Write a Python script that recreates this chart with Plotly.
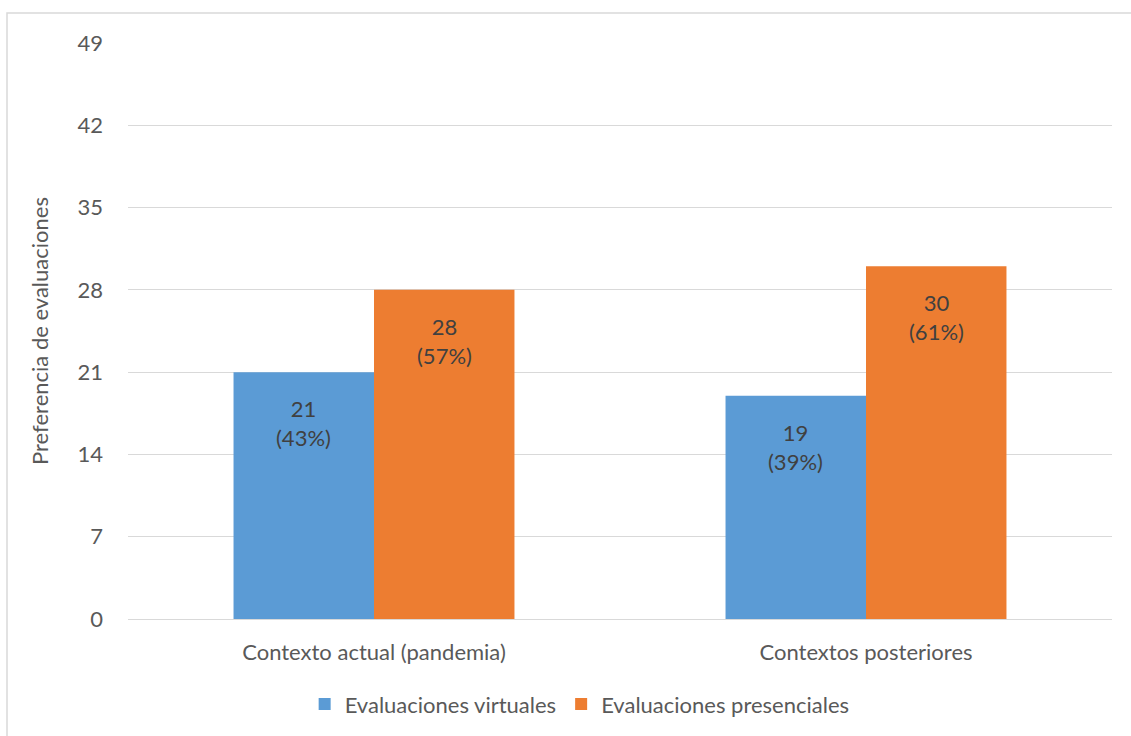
import plotly.graph_objects as go

categories = ["Contexto actual (pandemia)", "Contextos posteriores"]
virtuales = [21, 19]
presenciales = [28, 30]
pct_virtuales = ["43%", "39%"]
pct_presenciales = ["57%", "61%"]
tick_vals = [0, 7, 14, 21, 28, 35, 42, 49]

FONT = "Lato"
TXT = "#595959"
FS = 22
BAR_HALF_PX = 70.25
LABEL_DROP_PX = 51

fig = go.Figure()
fig.add_trace(go.Bar(
    x=categories, y=virtuales, name="Evaluaciones virtuales",
    marker=dict(color="#5B9BD5", line=dict(width=0)),
))
fig.add_trace(go.Bar(
    x=categories, y=presenciales, name="Evaluaciones presenciales",
    marker=dict(color="#ED7D31", line=dict(width=0)),
))

for vals, pcts, shift in ((virtuales, pct_virtuales, -BAR_HALF_PX),
                          (presenciales, pct_presenciales, BAR_HALF_PX)):
    for cat, v, p in zip(categories, vals, pcts):
        fig.add_annotation(x=cat, y=v, text=f"{v}<br>({p})", showarrow=False,
                           xshift=shift, yshift=-LABEL_DROP_PX, yanchor="middle",
                           font=dict(color="#404040", size=FS, family=FONT))

fig.update_layout(
    width=1131, height=736,
    margin=dict(l=128, r=19, t=43, b=116),
    paper_bgcolor="white", plot_bgcolor="white",
    barmode="group", bargap=0.429, bargroupgap=0,
    font=dict(family=FONT, color=TXT, size=FS),
    showlegend=True,
    legend=dict(orientation="h", x=0.459, xanchor="center", y=-0.146, yanchor="middle",
                font=dict(size=FS, color=TXT), itemsizing="constant"),
)
fig.update_yaxes(
    range=[0, 49], tickvals=tick_vals, showgrid=True, gridcolor="#d9d9d9", gridwidth=1,
    zeroline=True, zerolinecolor="#d9d9d9", zerolinewidth=1,
    showline=False, ticks="", ticklabelstandoff=24,
    tickfont=dict(size=FS, color=TXT),
    title=dict(text="Preferencia de evaluaciones", font=dict(size=FS, color=TXT), standoff=22),
)
fig.update_xaxes(
    showline=False, ticks="", tickfont=dict(size=FS, color=TXT), ticklabelstandoff=18,
)
fig.add_shape(type="rect", xref="paper", yref="paper",
              x0=(7 - 128) / 984, x1=(1135 - 128) / 984,
              y0=(620 - 740) / 577, y1=(620 - 13) / 577,
              line=dict(color="#d9d9d9", width=1.5), fillcolor="rgba(0,0,0,0)", layer="below")

fig.write_html("out.html")
